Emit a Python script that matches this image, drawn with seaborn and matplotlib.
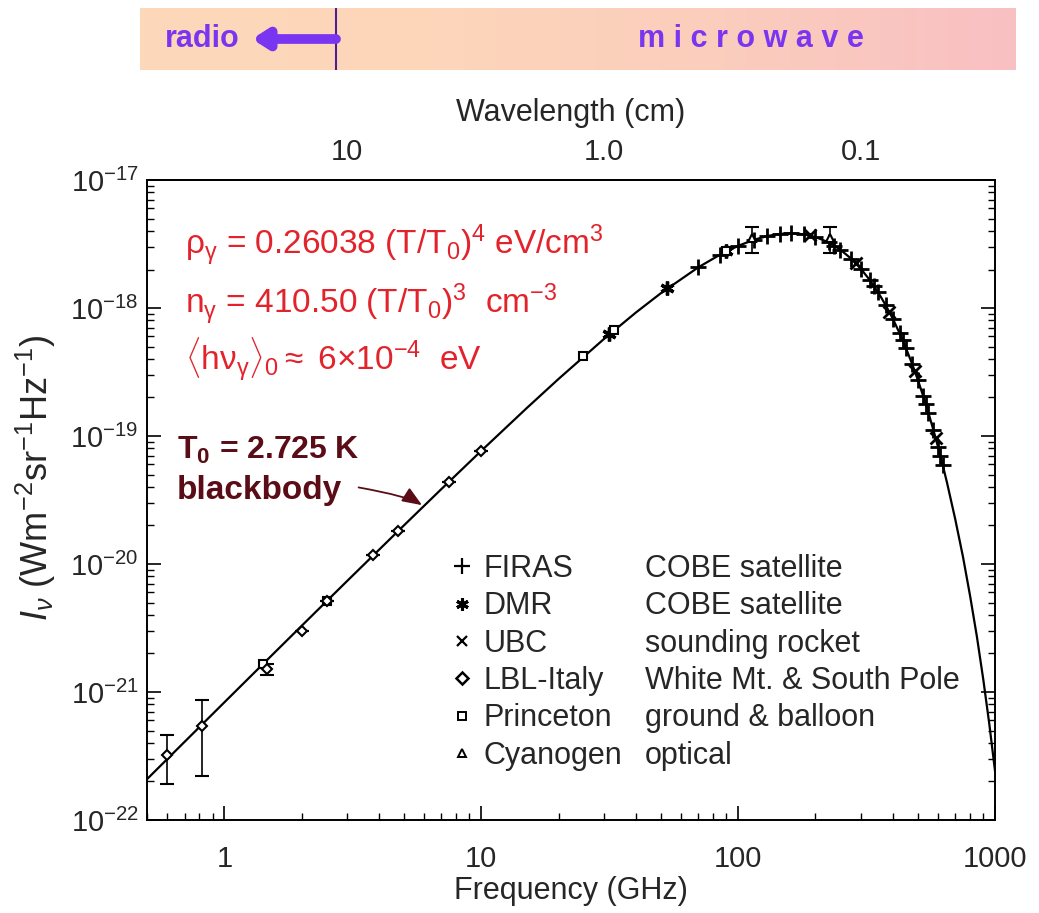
import numpy as np
import matplotlib
matplotlib.use("Agg")
import matplotlib.pyplot as plt
import seaborn as sns
from matplotlib.lines import Line2D
from matplotlib.colors import LinearSegmentedColormap

# ---------------- data ----------------
curve_freq = [0.5, 0.7, 1, 1.5, 2, 3, 5, 7, 10, 15, 20, 30, 40, 50, 70, 85, 100, 115, 130,
              145, 160, 180, 200, 225, 250, 275, 300, 325, 350, 375, 400, 425, 450, 475,
              500, 525, 550, 575, 600, 625, 650, 700, 750, 800, 850, 900, 950, 1000]
curve_I = [2.084e-22, 4.077e-22, 8.30e-22, 1.859e-21, 3.290e-21, 7.338e-21, 2.002e-20,
           3.855e-20, 7.657e-20, 1.646e-19, 2.794e-19, 5.719e-19, 9.227e-19, 1.305e-18,
           2.081e-18, 2.611e-18, 3.060e-18, 3.409e-18, 3.653e-18, 3.793e-18, 3.837e-18,
           3.770e-18, 3.590e-18, 3.255e-18, 2.856e-18, 2.437e-18, 2.031e-18, 1.660e-18,
           1.334e-18, 1.055e-18, 8.242e-19, 6.356e-19, 4.861e-19, 3.680e-19, 2.763e-19,
           2.059e-19, 1.525e-19, 1.121e-19, 8.202e-20, 5.974e-20, 4.328e-20, 2.236e-20,
           1.141e-20, 5.6e-21, 2.7e-21, 1.25e-21, 5.6e-22, 2.4e-22]

firas_freq = [70, 85, 100, 115, 130, 145, 160, 180, 200, 225, 237, 250, 275, 300, 325, 337,
              350, 375, 400, 425, 437, 450, 475, 500, 525, 537, 550, 575, 600, 612, 625]
firas_I = [2.081e-18, 2.611e-18, 3.060e-18, 3.409e-18, 3.653e-18, 3.793e-18, 3.837e-18,
           3.770e-18, 3.590e-18, 3.255e-18, 3.06e-18, 2.856e-18, 2.437e-18, 2.031e-18,
           1.660e-18, 1.49e-18, 1.334e-18, 1.055e-18, 8.242e-19, 6.356e-19, 5.6e-19,
           4.861e-19, 3.680e-19, 2.763e-19, 2.059e-19, 1.78e-19, 1.525e-19, 1.121e-19,
           8.202e-20, 7.0e-20, 5.974e-20]

dmr_freq = [31.5, 53, 90]
dmr_I = [6.215e-19, 1.423e-18, 2.771e-18]

ubc_freq = [190, 287, 387, 487, 587]
ubc_I = [3.69e-18, 2.23e-18, 9.3e-19, 3.2e-19, 9.6e-20]

lbl_freq = [0.6, 0.82, 1.47, 2.0, 2.5, 3.8, 4.75, 7.5, 10]
lbl_I = [3.2e-22, 5.4e-22, 1.5e-21, 3.0e-21, 5.1e-21, 1.17e-20, 1.81e-20, 4.4e-20, 7.66e-20]
lbl_err_lo = [1.3e-22, 3.2e-22, 0.15e-21, 0, 0, 0, 0, 0, 0]
lbl_err_hi = [1.4e-22, 3.3e-22, 0.15e-21, 0, 0, 0, 0, 0, 0]

princeton_freq = [1.41, 2.5, 24.8, 33, 90]
princeton_I = [1.64e-21, 5.1e-21, 4.2e-19, 6.7e-19, 2.8e-18]

cn_freq = [113.6, 227]
cn_I = [3.5e-18, 3.5e-18]
cn_err = [0.8e-18, 0.8e-18]

exp_names = ["FIRAS", "DMR", "UBC", "LBL-Italy", "Princeton", "Cyanogen"]
exp_desc = ["COBE satellite", "COBE satellite", "sounding rocket",
            "White Mt. & South Pole", "ground & balloon", "optical"]

xtick_vals = [1, 10, 100, 1000]
xtick_labels = ["1", "10", "100", "1000"]
wl_ticks = [10, 1, 0.1]
wl_labels = ["10", "1.0", "0.1"]

# ---------------- style ----------------
sns.set_theme(style="ticks")
plt.rcParams["font.family"] = ["Liberation Sans", "DejaVu Sans"]
plt.rcParams["mathtext.fontset"] = "custom"
plt.rcParams["mathtext.rm"] = "Liberation Sans"
plt.rcParams["mathtext.it"] = "Liberation Sans:italic"
plt.rcParams["mathtext.bf"] = "Liberation Sans:bold"

fig = plt.figure(figsize=(10.39, 9.13), dpi=100)
fig.patch.set_facecolor("white")
ax = fig.add_axes([0.1415, 0.1019, 0.8162, 0.7009])
ax.set_xscale("log")
ax.set_yscale("log")

sns.lineplot(x=curve_freq, y=curve_I, ax=ax, color="black", lw=1.6, sort=True)

k = "black"
ax.plot(firas_freq, firas_I, ls="none", marker="+", ms=11, mew=2.0, color=k)
ax.plot(dmr_freq, dmr_I, ls="none", marker=(6, 2, 0), ms=10, mew=2.4, color=k)
ax.plot(ubc_freq, ubc_I, ls="none", marker="x", ms=8, mew=2.0, color=k)
ax.errorbar(lbl_freq, lbl_I, yerr=[lbl_err_lo, lbl_err_hi], ls="none", marker="D", ms=5,
            mfc="white", mec=k, mew=1.5, ecolor=k, elinewidth=1.2, capsize=5, capthick=1.2)
ax.plot(princeton_freq, princeton_I, ls="none", marker="s", ms=6, mfc="white", mec=k, mew=1.5)
ax.errorbar(cn_freq, cn_I, yerr=cn_err, ls="none", marker="^", ms=6, mfc="white", mec=k,
            mew=1.5, ecolor=k, elinewidth=1.2, capsize=5, capthick=1.2)

ax.set_xlim(0.5, 1000)
ax.set_ylim(1e-22, 1e-17)
ax.set_xticks(xtick_vals)
ax.set_xticklabels(xtick_labels)
ax.xaxis.set_minor_formatter(matplotlib.ticker.NullFormatter())
ax.yaxis.set_minor_formatter(matplotlib.ticker.NullFormatter())
ax.tick_params(axis="both", which="major", direction="in", length=10, width=1.2,
               top=False, right=True, labelsize=21, color=k)
ax.tick_params(axis="both", which="minor", direction="in", length=5, width=1.0,
               top=False, right=True, color=k)
ax.tick_params(axis="x", which="major", pad=18)
ax.tick_params(axis="y", which="major", pad=6)
for s in ax.spines.values():
    s.set_color(k)
    s.set_linewidth(1.4)

ax.set_xlabel("Frequency (GHz)", fontsize=22, labelpad=2)
ax.set_ylabel(r"$I_\nu$ (Wm$^{-2}$sr$^{-1}$Hz$^{-1}$)", fontsize=26)
ax.yaxis.set_label_coords(-0.105, 0.535)

sec = ax.secondary_xaxis("top", functions=(lambda f: 30.0 / f, lambda l: 30.0 / l))
sec.set_xticks(wl_ticks)
sec.set_xticklabels(wl_labels)
sec.xaxis.set_minor_locator(matplotlib.ticker.NullLocator())
sec.tick_params(direction="in", length=0, labelsize=21, pad=10)
sec.set_xlabel("Wavelength (cm)", fontsize=22, labelpad=12)
sec.spines["top"].set_linewidth(1.4)

# formulas
red = "#e3232c"
ax.text(0.045, 0.898, r"$\mathrm{\rho}_{\mathrm{\gamma}}$ = 0.26038 (T/T$_0$)$^4$ eV/cm$^3$",
        transform=ax.transAxes, color=red, fontsize=24, va="center", ha="left")
ax.text(0.045, 0.805, r"n$_{\mathrm{\gamma}}$ = 410.50 (T/T$_0$)$^3$  cm$^{-3}$",
        transform=ax.transAxes, color=red, fontsize=24, va="center", ha="left")
ax.text(0.045, 0.719, r"$\langle$h$\mathrm{\nu}_{\mathrm{\gamma}}\rangle_0\approx$ 6$\times$10$^{-4}$  eV",
        transform=ax.transAxes, color=red, fontsize=24, va="center", ha="left")

maroon = "#5a0d16"
ax.text(0.035, 0.577, r"T$_\mathbf{0}$ = 2.725 K", transform=ax.transAxes, color=maroon,
        fontsize=23, fontweight="bold", va="center", ha="left")
ax.text(0.035, 0.515, "blackbody", transform=ax.transAxes, color=maroon,
        fontsize=24, fontweight="bold", va="center", ha="left")
ax.annotate("", xy=(6.0, 2.8e-20), xytext=(3.25, 4.0e-20),
            arrowprops=dict(arrowstyle="-|>,head_length=1.0,head_width=0.4", color=maroon,
                            lw=1.3, connectionstyle="angle3,angleA=-10,angleB=-40"))

# legends
h1 = [Line2D([], [], ls="none", marker="+", ms=11, mew=1.6, color=k),
      Line2D([], [], ls="none", marker=(6, 2, 0), ms=9, mew=2.2, color=k),
      Line2D([], [], ls="none", marker="x", ms=7, mew=1.6, color=k),
      Line2D([], [], ls="none", marker="D", ms=6, mfc="white", mec=k, mew=1.8),
      Line2D([], [], ls="none", marker="s", ms=6, mfc="white", mec=k, mew=1.4),
      Line2D([], [], ls="none", marker="^", ms=6, mfc="white", mec=k, mew=1.4)]
leg1 = ax.legend(h1, exp_names, loc="upper left", bbox_to_anchor=(450 / 1039, 1 - 554 / 913),
                 bbox_transform=fig.transFigure, frameon=False, fontsize=22, handlelength=0.8,
                 handletextpad=0.3, labelspacing=0.24, borderpad=0, borderaxespad=0)
ax.add_artist(leg1)
h2 = [Line2D([], [], alpha=0) for _ in exp_desc]
ax.legend(h2, exp_desc, loc="upper left", bbox_to_anchor=(645 / 1039, 1 - 554 / 913),
          bbox_transform=fig.transFigure, frameon=False, fontsize=22, handlelength=0,
          handletextpad=0, labelspacing=0.24, borderpad=0, borderaxespad=0)

# band on top
band = fig.add_axes([140 / 1039, 1 - 70 / 913, 875 / 1039, 62 / 913])
band.set_axis_off()
cmap = LinearSegmentedColormap.from_list("band", ["#fdd8b9", "#fdd6ba", "#fbcdbd", "#f9c0c3"])
grad = np.linspace(0, 1, 256)[None, :]
band.imshow(grad, aspect="auto", extent=[0, 1, 0, 1], cmap=cmap, zorder=0)
band.set_xlim(0, 1)
band.set_ylim(0, 1)
purple = "#7a35f0"
band.plot([0.224, 0.224], [0, 1], color="#4b2090", lw=1.5)
band.annotate("", xy=(0.128, 0.5), xytext=(0.224, 0.5),
              arrowprops=dict(arrowstyle="-|>,head_length=0.7,head_width=0.45", lw=7,
                              color=purple, shrinkA=0, shrinkB=0))
band.text(0.028, 0.5, "radio", color=purple, fontsize=22, fontweight="bold",
          va="center", ha="left")
band.text(0.698, 0.5, "m i c r o w a v e", color=purple, fontsize=22, fontweight="bold",
          va="center", ha="center")

fig.savefig("out.png", dpi=100, facecolor="white")
